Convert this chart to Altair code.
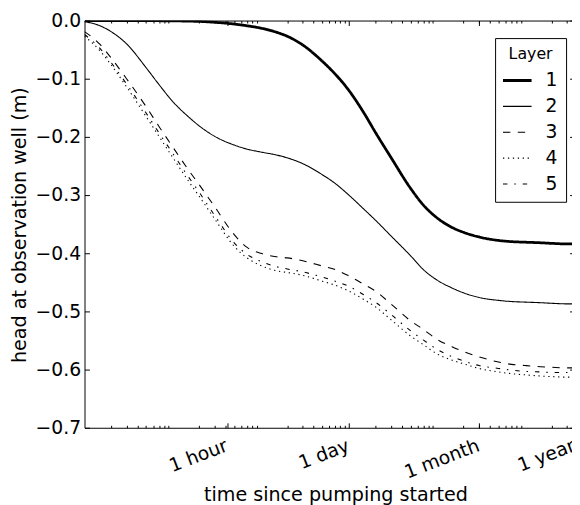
import altair as alt
import pandas as pd

# time since pumping started, in days
time_days = [0.001, 0.0015, 0.002, 0.003, 0.005, 0.007, 0.01, 0.015, 0.02, 0.03, 0.05, 0.07,
             0.1, 0.15, 0.2, 0.3, 0.5, 0.7, 1, 1.5, 2, 3, 5, 7, 10, 15, 20, 30, 50, 70, 100,
             150, 200, 300, 365]

layer1 = [0.0, 0.0, 0.0, 0.0, 0.0, -0.0003, -0.0005, -0.001, -0.0015, -0.003, -0.006, -0.009,
          -0.013, -0.020, -0.027, -0.042, -0.070, -0.092, -0.120, -0.160, -0.192, -0.235, -0.288,
          -0.317, -0.339, -0.356, -0.364, -0.372, -0.378, -0.380, -0.381, -0.382, -0.383, -0.384,
          -0.384]
layer2 = [-0.002, -0.009, -0.019, -0.040, -0.081, -0.110, -0.139, -0.165, -0.181, -0.199, -0.214,
          -0.221, -0.226, -0.231, -0.236, -0.246, -0.265, -0.280, -0.300, -0.325, -0.343, -0.370,
          -0.404, -0.428, -0.446, -0.460, -0.468, -0.476, -0.481, -0.483, -0.484, -0.485, -0.486,
          -0.487, -0.487]
layer3 = [-0.019, -0.041, -0.064, -0.100, -0.148, -0.182, -0.217, -0.256, -0.282, -0.320, -0.368,
          -0.390, -0.400, -0.406, -0.408, -0.413, -0.422, -0.428, -0.439, -0.454, -0.465, -0.487,
          -0.516, -0.531, -0.548, -0.561, -0.569, -0.578, -0.587, -0.591, -0.593, -0.595, -0.596,
          -0.597, -0.597]
layer4 = [-0.027, -0.052, -0.076, -0.114, -0.165, -0.199, -0.235, -0.275, -0.302, -0.341, -0.388,
          -0.408, -0.421, -0.430, -0.433, -0.438, -0.448, -0.455, -0.465, -0.480, -0.492, -0.514,
          -0.542, -0.557, -0.573, -0.584, -0.590, -0.598, -0.604, -0.607, -0.609, -0.611, -0.612,
          -0.613, -0.613]
layer5 = [-0.024, -0.048, -0.072, -0.109, -0.159, -0.193, -0.228, -0.268, -0.295, -0.335, -0.382,
          -0.402, -0.414, -0.423, -0.427, -0.432, -0.441, -0.448, -0.457, -0.472, -0.484, -0.505,
          -0.533, -0.549, -0.565, -0.578, -0.585, -0.593, -0.598, -0.601, -0.603, -0.604, -0.605,
          -0.605, -0.605]

layer_names = ["1", "2", "3", "4", "5"]
layer_dashes = [[1, 0], [1, 0], [7.5, 7.5], [1.3, 3.7], [4.5, 7, 1.5, 7]]

major_tick_values = [0.041667, 1, 30, 365]
major_tick_labels = ["1 hour", "1 day", "1 month", "1 year"]
minor_tick_values = [m * 10.0 ** e for e in range(-3, 3) for m in range(2, 10) if m * 10.0 ** e <= 365]
y_tick_values = [0.0, -0.1, -0.2, -0.3, -0.4, -0.5, -0.6, -0.7]

rows = []
for name, vals in zip(layer_names, [layer1, layer2, layer3, layer4, layer5]):
    for t, v in zip(time_days, vals):
        rows.append({"t": t, "head": v, "layer": name})
df = pd.DataFrame(rows)
yticks_df = pd.DataFrame({"v": y_tick_values})

# label expression from the tick lists
expr = "'" + major_tick_labels[-1] + "'"
for i in range(len(major_tick_values) - 2, -1, -1):
    thr = (major_tick_values[i] * major_tick_values[i + 1]) ** 0.5
    expr = f"datum.value < {thr} ? '{major_tick_labels[i]}' : ({expr})"

FONT = "DejaVu Sans"
W_VIS = 494.4
W_FULL = 497.0
H = 413

xscale = alt.Scale(type="log", domain=[0.001, 365], range=[0, W_FULL])
yscale = alt.Scale(domain=[-0.7, 0], nice=False, zero=False)

lines = alt.Chart(df).mark_line(color="black", clip=True, interpolate="monotone").encode(
    x=alt.X("t:Q", scale=xscale, axis=alt.Axis(
        orient="bottom", values=major_tick_values, labelExpr=expr, labelAngle=-21,
        labelAlign="right", labelBaseline="top", labelFontSize=19, labelColor="black",
        labelPadding=8.5, labelOffset=-4, labelFlush=False, labelOverlap=False, labelBound=False,
        ticks=False, tickSize=0, domain=True, domainColor="black", domainWidth=1, grid=False,
        title="time since pumping started", titleFontSize=19.4, titleFontWeight="normal",
        titleColor="black", titleX=254.5, titleY=73.5, titleBaseline="alphabetic",
        titleAlign="center")),
    y=alt.Y("head:Q", scale=yscale, axis=alt.Axis(
        orient="left", values=y_tick_values, format=".1f", labelFontSize=19, labelColor="black",
        labelPadding=4, labelFlush=False, labelOverlap=False, ticks=False, tickSize=0,
        domain=True, domainColor="black", domainWidth=1, grid=False,
        title="head at observation well (m)", titleFontSize=19.4, titleFontWeight="normal",
        titleColor="black", titleX=-60, titleY=207, titleBaseline="alphabetic",
        titleAlign="center", titleAngle=-90)),
    strokeDash=alt.StrokeDash("layer:N", scale=alt.Scale(domain=layer_names, range=layer_dashes),
                              legend=alt.Legend(
                                  orient="none", legendX=416.4, legendY=17.8, title="Layer",
                                  titleFontSize=16, titleFontWeight="normal", titleColor="black",
                                  titleAnchor="middle", titlePadding=9.5, labelFontSize=19,
                                  labelColor="black", labelOffset=19, symbolType="M-3,0H3",
                                  symbolSize=93.4, symbolOffset=5, symbolStrokeColor="black",
                                  symbolStrokeWidth={"expr": "datum.value === '1' ? 2.8 : 1.1"},
                                  strokeColor="black", fillColor="white", padding=8,
                                  cornerRadius=0, rowPadding=6.25)),
    strokeWidth=alt.condition(alt.datum.layer == "1", alt.value(2.8), alt.value(1.1)),
)


def xaxis_layer(values, orient, offset, size, domain):
    return alt.Chart(pd.DataFrame({"t": values})).mark_point(opacity=0).encode(
        x=alt.X("t:Q", scale=xscale, axis=alt.Axis(
            orient=orient, offset=offset, values=values, labels=False, ticks=True,
            tickSize=size, tickColor="black", tickWidth=1, domain=domain, domainColor="black",
            domainWidth=1, grid=False, title=None)))


def yaxis_layer(orient, offset, domain):
    return alt.Chart(yticks_df).mark_point(opacity=0).encode(
        y=alt.Y("v:Q", scale=yscale, axis=alt.Axis(
            orient=orient, offset=offset, values=y_tick_values, labels=False, ticks=True,
            tickSize=5, tickColor="black", tickWidth=1, domain=domain, domainColor="black",
            domainWidth=1, grid=False, title=None)))


bottom_minor = xaxis_layer(minor_tick_values, "top", -H, 2.5, False)
bottom_major = xaxis_layer(major_tick_values, "top", -H, 5, False)
top_minor = xaxis_layer(minor_tick_values, "bottom", -H, 2.5, True)
top_major = xaxis_layer(major_tick_values, "bottom", -H, 5, False)
left_ticks = yaxis_layer("right", -W_VIS, False)
right_spine = yaxis_layer("left", -W_FULL, True)

chart = alt.layer(lines, bottom_minor, bottom_major, top_minor, top_major, left_ticks,
                  right_spine).resolve_axis(
    x="independent", y="independent"
).properties(
    width=W_VIS, height=H,
    padding={"left": 77.6, "top": 9.2, "right": 0, "bottom": 74.8},
    autosize=alt.AutoSizeParams(type="none"),
).configure(font=FONT).configure_view(stroke="transparent")

chart.save("out.html", embed_options={"renderer": "svg", "actions": False})
